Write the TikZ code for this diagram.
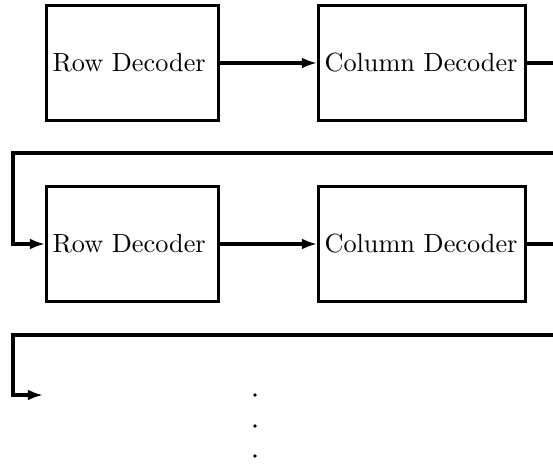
\documentclass[tikz,border=0pt]{standalone}
\usetikzlibrary{arrows.meta}
\begin{document}
\begin{tikzpicture}[x=0.381pt,y=-0.381pt,
  blk/.style={draw,line width=1.15pt,minimum height=43.8pt,inner xsep=2.3pt,align=left,font=\fontsize{10}{12}\selectfont},
  rowblk/.style={blk,text width=61pt},
  colblk/.style={blk,text width=74.3pt},
  conn/.style={line width=1.15pt,-{Latex[length=5.8pt,width=4.2pt]}},
  dotmark/.style={circle,fill,inner sep=0pt,minimum size=1.4pt}]
\useasboundingbox (0,0) rectangle (553,465);
\node[rowblk,anchor=west] (r1) at (45,63) {Row Decoder};
\node[colblk,anchor=west] (c1) at (317,63) {Column Decoder};
\node[rowblk,anchor=west] (r2) at (45,244) {Row Decoder};
\node[colblk,anchor=west] (c2) at (317,244) {Column Decoder};
\coordinate (e1) at (580,63);
\coordinate (l1) at (13,153);
\coordinate (e2) at (580,244);
\coordinate (l2) at (13,335);
\coordinate (t3) at (43,395);
\draw[conn] (r1) -- (c1);
\draw[conn] (r2) -- (c2);
\draw[conn] (c1.east) -- (e1) |- (l1) |- (r2.west);
\draw[conn] (c2.east) -- (e2) |- (l2) |- (t3);
\node[dotmark] (d1) at (255,395) {};
\node[dotmark] (d2) at (255,426) {};
\node[dotmark] (d3) at (255,456) {};
\end{tikzpicture}
\end{document}
